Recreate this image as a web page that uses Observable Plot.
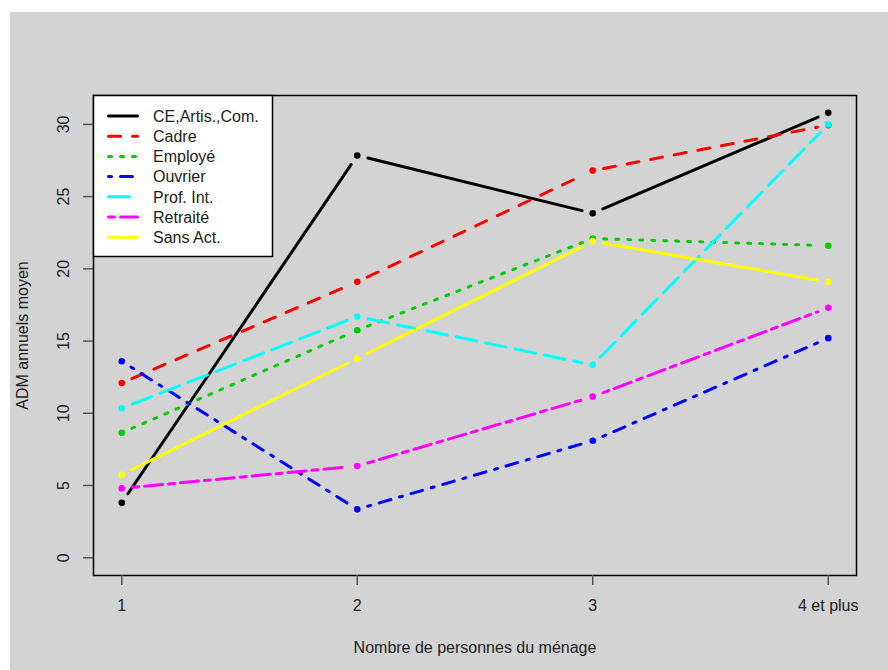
<!DOCTYPE html>
<html>
<head>
<meta charset="utf-8">
<script src="https://cdn.jsdelivr.net/npm/d3@7"></script>
<script src="https://cdn.jsdelivr.net/npm/@observablehq/plot@0.6"></script>
<style>
  html, body { margin: 0; padding: 0; background: #ffffff; }
  #wrap { position: relative; width: 888px; height: 670px; overflow: hidden; }
  #panel { position: absolute; left: 10px; top: 12px; width: 878px; height: 658px; background: #d3d3d3; }
  #legend { position: absolute; left: 0; top: 0; pointer-events: none; }
</style>
</head>
<body>
<div id="wrap"><div id="panel"></div><svg id="legend" width="888" height="670"></svg></div>
<script>
// ---- data ----
const categories = ["1", "2", "3", "4 et plus"];
const xPositions = [1, 2, 3, 4];
const seriesNames = ["CE,Artis.,Com.", "Cadre", "Employé", "Ouvrier", "Prof. Int.", "Retraité", "Sans Act."];
const ceValues       = [3.8, 27.85, 23.85, 30.8];
const cadreValues    = [12.1, 19.1, 26.8, 29.95];
const employeValues  = [8.65, 15.75, 22.1, 21.6];
const ouvrierValues  = [13.6, 3.35, 8.1, 15.2];
const profValues     = [10.35, 16.7, 13.35, 30.0];
const retraiteValues = [4.8, 6.35, 11.15, 17.3];
const sansValues     = [5.75, 13.8, 21.9, 19.1];
const yTicks = [0, 5, 10, 15, 20, 25, 30];
const yTitle = "ADM annuels moyen";
const xTitle = "Nombre de personnes du ménage";

// ---- styles ----
const colors = ["#000000", "#ff0000", "#00cd00", "#0000ff", "#00ffff", "#ff00ff", "#ffff00"];
const dashes = [null, "12,12", "3,9", "3,9,12,9", "21,9", "6,6,18,6", null];
const allValues = [ceValues, cadreValues, employeValues, ouvrierValues, profValues, retraiteValues, sansValues];

const W = 878, H = 658, mL = 83, mR = 32, mT = 83, mB = 95;
const xDom = [0.88, 4.12], yDom = [-1.23, 32.0];
const kx = (W - mL - mR) / (xDom[1] - xDom[0]);
const ky = (H - mT - mB) / (yDom[1] - yDom[0]);
const gap = 11; // px gap around points (type "b")

function segments(vals) {
  const out = [];
  for (let i = 0; i < vals.length - 1; i++) {
    const x1 = xPositions[i], x2 = xPositions[i + 1], y1 = vals[i], y2 = vals[i + 1];
    const L = Math.hypot((x2 - x1) * kx, (y2 - y1) * ky);
    const f = gap / L;
    out.push({
      x1: x1 + (x2 - x1) * f, y1: y1 + (y2 - y1) * f,
      x2: x2 - (x2 - x1) * f, y2: y2 - (y2 - y1) * f
    });
  }
  return out;
}

const marks = [Plot.frame({stroke: "#000", strokeWidth: 1.5})];
allValues.forEach((vals, s) => {
  marks.push(Plot.link(segments(vals), {
    x1: "x1", y1: "y1", x2: "x2", y2: "y2",
    stroke: colors[s], strokeWidth: 3, strokeLinecap: "round",
    strokeDasharray: dashes[s] || undefined
  }));
  marks.push(Plot.dot(vals.map((v, i) => ({x: xPositions[i], y: v})), {
    x: "x", y: "y", r: 3.3, fill: colors[s], stroke: "none"
  }));
});

marks.push(
  Plot.axisY({ticks: yTicks, tickSize: 10, tickFormat: () => "", stroke: "#555", strokeWidth: 1.5, label: null}),
  Plot.text(yTicks, {y: d => d, text: d => String(d), frameAnchor: "left", dx: -30, rotate: -90,
    textAnchor: "middle", lineAnchor: "middle", fontSize: 16, fill: "#222"}),
  Plot.axisX({ticks: xPositions, tickFormat: d => categories[d - 1], tickSize: 10, tickPadding: 14,
    stroke: "#555", strokeWidth: 1.5, fontSize: 16, fill: "#222", label: null}),
  Plot.text([xTitle], {text: d => d, frameAnchor: "bottom", dy: 72, lineAnchor: "middle", fontSize: 16, fill: "#222"}),
  Plot.text([yTitle], {text: d => d, frameAnchor: "left", dx: -71, rotate: -90, textAnchor: "middle",
    lineAnchor: "middle", fontSize: 16, fill: "#222"})
);

const chart = Plot.plot({
  width: W, height: H,
  marginLeft: mL, marginRight: mR, marginTop: mT, marginBottom: mB,
  x: {domain: xDom, axis: null},
  y: {domain: yDom, axis: null},
  style: {background: "transparent", fontFamily: "'Liberation Sans', Arial, sans-serif", fontSize: "16px", color: "#222", overflow: "visible"},
  marks
});
document.getElementById("panel").appendChild(chart);

// ---- legend (topleft inside the plot frame) ----
const lg = d3.select("#legend");
const bx = 93, by = 95, bw = 179, bh = 161;
lg.append("rect").attr("x", bx + 0.5).attr("y", by + 0.5).attr("width", bw).attr("height", bh)
  .attr("fill", "#fff").attr("stroke", "#000").attr("stroke-width", 1.5);
seriesNames.forEach((name, i) => {
  const y = 116 + i * 20.2;
  const ln = lg.append("line").attr("x1", 108.5).attr("x2", 137.5).attr("y1", y).attr("y2", y)
    .attr("stroke", colors[i]).attr("stroke-width", 3).attr("stroke-linecap", "round");
  if (dashes[i]) ln.attr("stroke-dasharray", dashes[i]);
  lg.append("text").attr("x", 153).attr("y", y).attr("dy", "0.36em")
    .attr("font-family", "'Liberation Sans', Arial, sans-serif").attr("font-size", 16)
    .attr("fill", "#222").text(name);
});
</script>
</body>
</html>
